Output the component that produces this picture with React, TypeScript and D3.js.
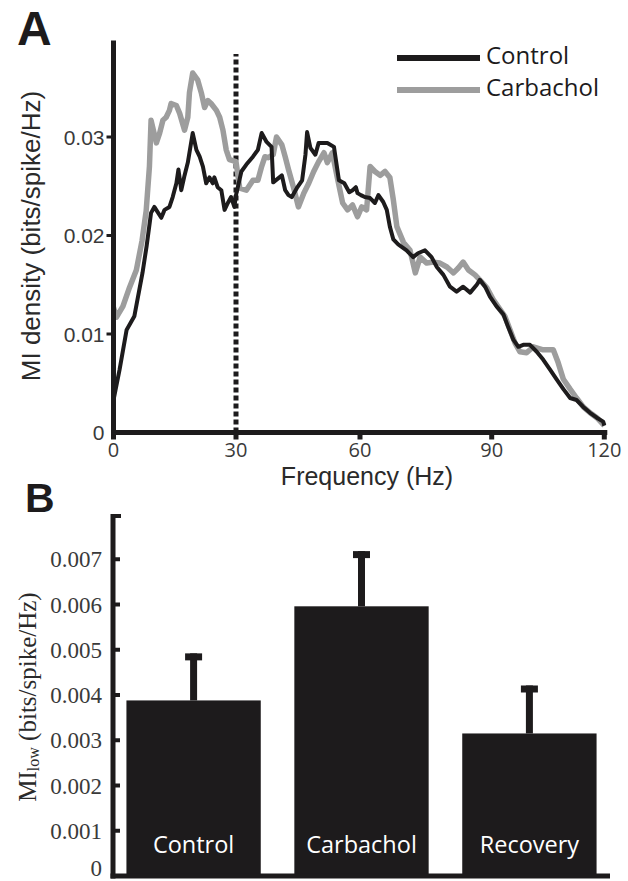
import React from 'react';
import * as d3 from 'd3';

// Panel A: MI density spectra, [frequency Hz, bits/spike/Hz]
const controlSpectrum: [number, number][] = [
  [0, 0.0033], [1.5, 0.0064], [3.2, 0.0104], [5.1, 0.0118], [7.1, 0.0162], [8.1, 0.0189],
  [9.2, 0.0223], [10.0, 0.0229], [11.7, 0.0218], [12.5, 0.0226], [13.7, 0.0229], [14.5, 0.0239],
  [15.4, 0.0253], [15.9, 0.0267], [16.6, 0.0246], [17.4, 0.0261], [18.2, 0.0274], [19.4, 0.0304],
  [20.3, 0.0287], [21.1, 0.028], [21.9, 0.027], [22.7, 0.0253], [23.5, 0.0259], [24.3, 0.0253],
  [24.7, 0.0259], [25.5, 0.0249], [26.4, 0.0246], [27.2, 0.0226], [28.0, 0.0233], [28.8, 0.0239],
  [29.6, 0.0229], [30.0, 0.0241], [31.3, 0.0265], [32.5, 0.0272], [34.1, 0.028], [35.3, 0.0287],
  [36.2, 0.0304], [37.4, 0.0295], [38.6, 0.029], [39.0, 0.0254], [40.2, 0.0258], [41.1, 0.0261],
  [41.9, 0.0246], [42.7, 0.0241], [43.5, 0.0239], [44.7, 0.0248], [46.0, 0.0256], [46.8, 0.0282],
  [47.2, 0.0305], [48.0, 0.0289], [49.2, 0.0282], [50.0, 0.0294], [52.1, 0.0294], [53.7, 0.029],
  [54.9, 0.0256], [56.2, 0.0253], [57.4, 0.0244], [58.2, 0.0246], [59.0, 0.0249], [59.4, 0.0243],
  [60.2, 0.0241], [61.1, 0.0239], [62.3, 0.0238], [63.4, 0.0233], [64.2, 0.0241], [65.3, 0.0234],
  [66.1, 0.0226], [66.8, 0.0209], [67.6, 0.0196], [68.7, 0.0191], [70.6, 0.0185], [72.1, 0.0178],
  [73.2, 0.0182], [74.8, 0.0185], [76.3, 0.0178], [77.5, 0.0168], [79.0, 0.016], [80.5, 0.0148],
  [82.0, 0.0143], [83.5, 0.0148], [85.1, 0.0142], [86.6, 0.015], [87.3, 0.0155], [88.5, 0.0148],
  [89.6, 0.0138], [91.3, 0.0128], [93.1, 0.012], [94.4, 0.0107], [95.8, 0.0094], [97.1, 0.0087],
  [98.4, 0.0089], [100.2, 0.0089], [102.0, 0.0082], [103.7, 0.0074], [105.5, 0.0064], [107.3, 0.0054],
  [109.1, 0.0044], [110.9, 0.0035], [112.6, 0.0033], [114.4, 0.0026], [116.2, 0.002], [118.0, 0.0015],
  [119.7, 0.0011], [120, 0.0007],
];

const carbacholSpectrum: [number, number][] = [
  [0, 0.0127], [0.7, 0.0117], [2.3, 0.0128], [3.9, 0.0147], [5.6, 0.0165], [7.0, 0.0195],
  [8.0, 0.0225], [8.8, 0.027], [9.2, 0.0317], [10.5, 0.0294], [11.3, 0.0304], [12.1, 0.0317],
  [12.9, 0.032], [13.7, 0.0327], [14.1, 0.0334], [15.4, 0.0332], [16.2, 0.0324], [17.4, 0.0307],
  [18.2, 0.032], [18.6, 0.0345], [19.4, 0.0365], [20.6, 0.0358], [21.5, 0.0345], [22.3, 0.033],
  [23.1, 0.0337], [23.9, 0.0334], [25.2, 0.0327], [26.0, 0.032], [26.8, 0.0307], [27.6, 0.0287],
  [28.4, 0.0277], [30.0, 0.0275], [30.9, 0.0248], [32.5, 0.0246], [34.1, 0.0256], [35.3, 0.0256],
  [36.2, 0.027], [37.0, 0.028], [37.8, 0.0279], [39.0, 0.0282], [39.8, 0.03], [41.1, 0.0292],
  [41.9, 0.028], [42.7, 0.0267], [43.9, 0.0249], [45.1, 0.0229], [46.4, 0.0243], [47.6, 0.0253],
  [48.8, 0.0265], [50.0, 0.0275], [51.3, 0.0284], [52.1, 0.0274], [53.3, 0.0284], [54.5, 0.0259],
  [55.8, 0.0233], [57.0, 0.0226], [58.2, 0.0231], [59.4, 0.0219], [60.4, 0.0229], [61.5, 0.0226],
  [62.3, 0.027], [63.4, 0.0265], [64.6, 0.0261], [65.7, 0.0265], [66.8, 0.0259], [67.6, 0.0236],
  [68.4, 0.0209], [69.9, 0.0193], [71.4, 0.0185], [72.6, 0.0162], [73.7, 0.0178], [75.2, 0.0172],
  [76.7, 0.0173], [78.2, 0.0172], [79.8, 0.0168], [81.3, 0.0162], [82.4, 0.0167], [83.5, 0.0173],
  [84.7, 0.0165], [86.2, 0.016], [87.7, 0.0153], [88.9, 0.0147], [90.4, 0.0135], [92.2, 0.0125],
  [93.5, 0.0118], [94.9, 0.0104], [96.2, 0.0091], [97.5, 0.0082], [99.3, 0.0081], [101.1, 0.0087],
  [103.7, 0.0084], [106.4, 0.0084], [107.7, 0.0071], [109.1, 0.0054], [110.9, 0.0044], [112.6, 0.0035],
  [114.4, 0.0026], [116.2, 0.002], [118.0, 0.0015], [120, 0.0007],
];

const freqTicks = [0, 30, 60, 90, 120];
const densityTicks = [0, 0.01, 0.02, 0.03];
const densityTickLabels = ['0', '0.01', '0.02', '0.03'];
const cutoffHz = 30;

// Panel B: low-frequency MI per condition
const conditions = ['Control', 'Carbachol', 'Recovery'];
const miLow = [0.00388, 0.00596, 0.00315];
const miLowErr = [0.00104, 0.00122, 0.00106];
const miLowTicks = [0, 0.001, 0.002, 0.003, 0.004, 0.005, 0.006, 0.007];
const miLowTickLabels = ['0', '0.001', '0.002', '0.003', '0.004', '0.005', '0.006', '0.007'];

const INK = '#1d1b1c';
const GREY = '#9d9d9d';
const SANS = '"Liberation Sans", Arial, sans-serif';
const MYRIAD = '"Open Sans", sans-serif';
const SERIF = '"Liberation Serif", "Times New Roman", serif';

export default function App() {
  // panel A scales (tick spacing in the figure is a little uneven)
  const x = d3.scaleLinear().domain(freqTicks).range([113.5, 236, 360, 491.7, 604.3]);
  const y = d3.scaleLinear().domain([0, 0.03]).range([432.5, 137]);
  const yTopA = 0.0398;

  const line = d3
    .line<[number, number]>()
    .x(d => x(d[0]))
    .y(d => y(d[1]))
    .curve(d3.curveLinear);

  // panel B scales
  const xb = d3.scaleBand().domain(conditions).range([113, 610]).paddingInner(0.2).paddingOuter(0.08);
  const yb = d3.scaleLinear().domain([0, 0.008]).range([876, 514]);

  const axisLeftA = x(0);
  const axisLeftB = 113;

  return (
    <svg width={628} height={881} style={{ position: 'absolute', left: 0, top: 0, background: '#fff' }}>
      {/* ---------- Panel A ---------- */}
      <text x={17} y={45} fontFamily={SANS} fontWeight="bold" fontSize={48} fill={INK}>A</text>

      {/* legend */}
      <g>
        <line x1={397} x2={480} y1={58} y2={58} stroke={INK} strokeWidth={6} />
        <line x1={397} x2={480} y1={90} y2={90} stroke={GREY} strokeWidth={6} />
        <text x={486} y={64} fontFamily={MYRIAD} fontSize={24} fill={INK}>Control</text>
        <text x={486} y={96} fontFamily={MYRIAD} fontSize={24} fill={INK}>Carbachol</text>
      </g>

      {/* cutoff */}
      <line
        x1={x(cutoffHz)} x2={x(cutoffHz)} y1={y(0)} y2={54}
        stroke={INK} strokeWidth={5} strokeDasharray="5 3"
      />

      <path d={line(carbacholSpectrum) || ''} fill="none" stroke={GREY} strokeWidth={5.5} strokeLinejoin="round" />
      <path d={line(controlSpectrum) || ''} fill="none" stroke={INK} strokeWidth={4} strokeLinejoin="round" />

      {/* axes A */}
      <line x1={axisLeftA} x2={axisLeftA} y1={y(yTopA)} y2={y(0) + 2.5} stroke={INK} strokeWidth={5} />
      <line x1={axisLeftA - 2.5} x2={x(120) + 3} y1={y(0)} y2={y(0)} stroke={INK} strokeWidth={5} />
      {densityTicks.map((t, i) => (
        <g key={'ya' + i}>
          {i > 0 && <line x1={axisLeftA - 7} x2={axisLeftA} y1={y(t)} y2={y(t)} stroke={INK} strokeWidth={3} />}
          <text x={axisLeftA - 9} y={y(t)} dy="0.36em" textAnchor="end" fontFamily={SANS} fontSize={21} fill="#3a3a3a">
            {densityTickLabels[i]}
          </text>
        </g>
      ))}
      {freqTicks.map(t => (
        <g key={'xa' + t}>
          <line x1={x(t)} x2={x(t)} y1={y(0)} y2={y(0) + 7} stroke={INK} strokeWidth={5} />
          <text x={x(t)} y={457} textAnchor="middle" fontFamily={MYRIAD} fontSize={20} fill="#3a3a3a">{t}</text>
        </g>
      ))}
      <text x={367} y={485} textAnchor="middle" fontFamily={SANS} fontSize={25} fill="#2a2a2a">Frequency (Hz)</text>
      <text
        transform={`translate(40, ${236}) rotate(-90)`}
        textAnchor="middle" fontFamily={SANS} fontSize={26} fill="#2a2a2a"
      >
        MI density (bits/spike/Hz)
      </text>

      {/* ---------- Panel B ---------- */}
      <text x={25} y={512} fontFamily={SANS} fontWeight="bold" fontSize={41} fill={INK}>B</text>

      {conditions.map((c, i) => {
        const bx = xb(c) as number;
        const cx = bx + xb.bandwidth() / 2;
        const top = yb(miLow[i] + miLowErr[i]);
        return (
          <g key={c}>
            <rect x={cx - 3.5} y={top} width={7} height={yb(miLow[i]) - top} fill={INK} />
            <rect x={cx - 8.5} y={top} width={17} height={7} fill={INK} />
            <rect x={bx} y={yb(miLow[i])} width={xb.bandwidth()} height={yb(0) - yb(miLow[i])} fill={INK} />
            <text x={cx} y={853} textAnchor="middle" fontFamily={MYRIAD} fontSize={23.5} fill="#fff">{c}</text>
          </g>
        );
      })}

      {/* axes B */}
      <line x1={axisLeftB} x2={axisLeftB} y1={yb(0.008)} y2={yb(0) + 2.5} stroke={INK} strokeWidth={5} />
      <line x1={axisLeftB} x2={axisLeftB + 8} y1={yb(0.008) + 2} y2={yb(0.008) + 2} stroke={INK} strokeWidth={4} />
      <line x1={axisLeftB - 2.5} x2={610} y1={yb(0)} y2={yb(0)} stroke={INK} strokeWidth={5} />
      {miLowTicks.map((t, i) => (
        <g key={'yb' + i}>
          {i > 0 && <line x1={axisLeftB} x2={axisLeftB + 7} y1={yb(t)} y2={yb(t)} stroke={INK} strokeWidth={4} />}
          <text x={102} y={yb(t) - (i === 0 ? 8 : 0)} dy="0.35em" textAnchor="end" fontFamily={SERIF} fontSize={23} fill="#3a3a3a">
            {miLowTickLabels[i]}
          </text>
        </g>
      ))}
      <text
        transform={`translate(36, 697) rotate(-90)`}
        textAnchor="middle" fontFamily={SERIF} fontSize={25} fill="#2a2a2a"
      >
        MI<tspan fontSize={16} dy={3}>low</tspan><tspan dy={-3}> (bits/spike/Hz)</tspan>
      </text>
    </svg>
  );
}
